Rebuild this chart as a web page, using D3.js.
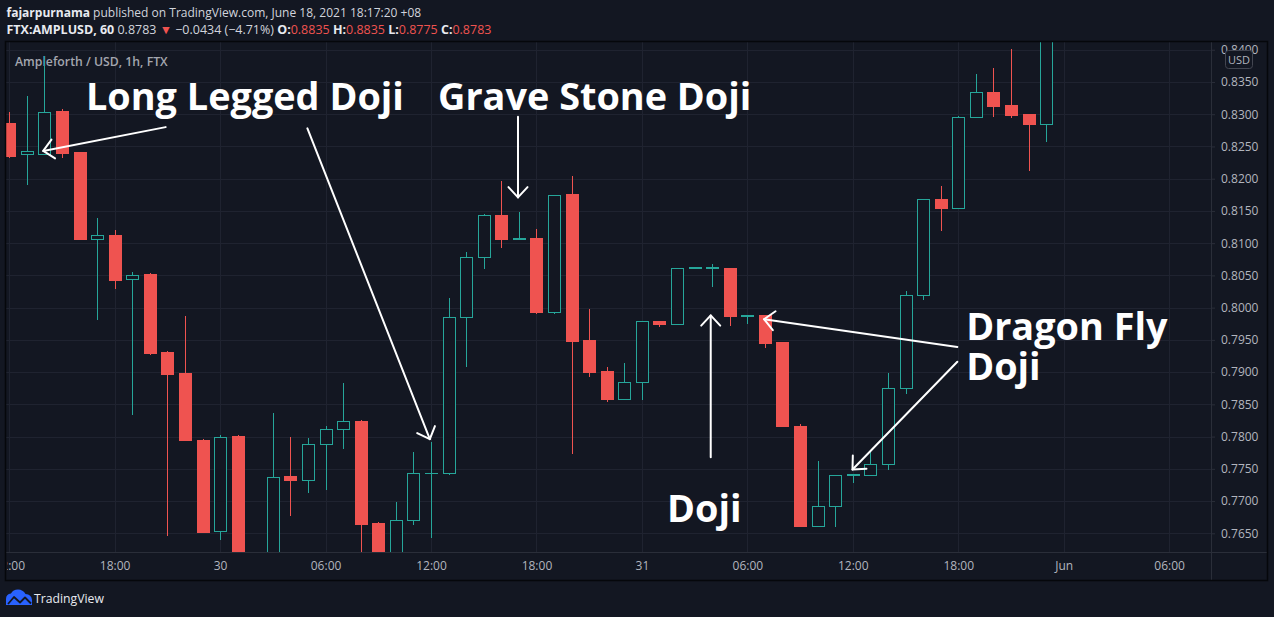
<!DOCTYPE html>
<html><head><meta charset="utf-8">
<script src="https://cdn.jsdelivr.net/npm/d3@7"></script>
<style>
html,body{margin:0;padding:0;background:#131722;overflow:hidden;}
svg{display:block;}
</style></head><body>
<svg id="chart" width="1274" height="617"></svg>
<script>
// ---------- DATA (hourly candles, FTX:AMPLUSD) ----------
const times = [
"2021-05-29 12:00","2021-05-29 13:00","2021-05-29 14:00","2021-05-29 15:00","2021-05-29 16:00","2021-05-29 17:00",
"2021-05-29 18:00","2021-05-29 19:00","2021-05-29 20:00","2021-05-29 21:00","2021-05-29 22:00","2021-05-29 23:00",
"2021-05-30 00:00","2021-05-30 01:00","2021-05-30 02:00","2021-05-30 03:00","2021-05-30 04:00","2021-05-30 05:00",
"2021-05-30 06:00","2021-05-30 07:00","2021-05-30 08:00","2021-05-30 09:00","2021-05-30 10:00","2021-05-30 11:00",
"2021-05-30 12:00","2021-05-30 13:00","2021-05-30 14:00","2021-05-30 15:00","2021-05-30 16:00","2021-05-30 17:00",
"2021-05-30 18:00","2021-05-30 19:00","2021-05-30 20:00","2021-05-30 21:00","2021-05-30 22:00","2021-05-30 23:00",
"2021-05-31 00:00","2021-05-31 01:00","2021-05-31 02:00","2021-05-31 03:00","2021-05-31 04:00","2021-05-31 05:00",
"2021-05-31 06:00","2021-05-31 07:00","2021-05-31 08:00","2021-05-31 09:00","2021-05-31 10:00","2021-05-31 11:00",
"2021-05-31 12:00","2021-05-31 13:00","2021-05-31 14:00","2021-05-31 15:00","2021-05-31 16:00","2021-05-31 17:00",
"2021-05-31 18:00","2021-05-31 19:00","2021-05-31 20:00","2021-05-31 21:00","2021-05-31 22:00","2021-05-31 23:00"];
const opens = [
0.8286,0.8239,0.8239,0.8305,0.8241,0.8107, 0.8113,0.8044,0.8052,0.7931,0.7898,0.7795,
0.7653,0.7801,0.7605,0.7596,0.7739,0.7732, 0.7788,0.7811,0.7824,0.7666,0.7605,0.7670,
0.7743,0.7743,0.7986,0.8078,0.8144,0.8107, 0.8108,0.7994,0.8176,0.7950,0.7902,0.7859,
0.7884,0.7980,0.7975,0.8062,0.8062,0.8062, 0.7987,0.7988,0.7947,0.7817,0.7662,0.7692,
0.7741,0.7741,0.7757,0.7876,0.8020,0.8169, 0.8155,0.8295,0.8334,0.8314,0.8300,0.8285];
const highs = [
0.8303,0.8329,0.8390,0.8308,0.8242,0.8139, 0.8121,0.8055,0.8053,0.7932,0.7987,0.7796,
0.7802,0.7802,0.7615,0.7837,0.7799,0.7798, 0.7817,0.7883,0.7825,0.7667,0.7699,0.7776,
0.7792,0.8015,0.8086,0.8146,0.8197,0.8148, 0.8122,0.8175,0.8204,0.7998,0.7908,0.7914,
0.7980,0.7980,0.8062,0.8063,0.8068,0.8062, 0.7988,0.7988,0.7947,0.7819,0.7762,0.7741,
0.7742,0.7778,0.7898,0.8026,0.8169,0.8189, 0.8297,0.8362,0.8371,0.8401,0.8300,0.8470];
const lows = [
0.8233,0.8192,0.8238,0.8234,0.8106,0.7983, 0.8031,0.7835,0.7928,0.7647,0.7794,0.7652,
0.7641,0.7590,0.7570,0.7590,0.7678,0.7714, 0.7718,0.7783,0.7605,0.7590,0.7598,0.7664,
0.7644,0.7742,0.7910,0.8062,0.8094,0.8107, 0.7991,0.7992,0.7775,0.7894,0.7855,0.7859,
0.7859,0.7971,0.7975,0.8062,0.8034,0.7973, 0.7976,0.7939,0.7817,0.7662,0.7662,0.7662,
0.7729,0.7741,0.7749,0.7868,0.8014,0.8121, 0.8155,0.8295,0.8297,0.8295,0.8214,0.8259];
const closes = [
0.8235,0.8243,0.8304,0.8240,0.8107,0.8113, 0.8043,0.8051,0.7930,0.7897,0.7794,0.7652,
0.7800,0.7605,0.7595,0.7738,0.7732,0.7788, 0.7811,0.7824,0.7665,0.7605,0.7670,0.7743,
0.7744,0.7986,0.8078,0.8144,0.8107,0.8108, 0.7993,0.8175,0.7949,0.7900,0.7859,0.7884,
0.7980,0.7975,0.8062,0.8063,0.8063,0.7987, 0.7988,0.7945,0.7817,0.7662,0.7692,0.7741,
0.7742,0.7757,0.7876,0.8020,0.8169,0.8155, 0.8295,0.8334,0.8313,0.8299,0.8285,0.8450];
const yTickValues = [0.765,0.770,0.775,0.780,0.785,0.790,0.795,0.800,0.805,0.810,0.815,0.820,0.825,0.830,0.835,0.840];
const priceDomain = [0.7621, 0.8412];

// annotation drawings, anchored in time/price like TradingView drawings
const annotationLabels = [
  {text:"Long Legged Doji", t:"2021-05-29 16:22", p:0.8307},
  {text:"Grave Stone Doji", t:"2021-05-30 12:24", p:0.8307},
  {text:"Doji",             t:"2021-05-31 01:26", p:0.7668},
  {text:"Dragon Fly",       t:"2021-05-31 18:27", p:0.7950},
  {text:"Doji",             t:"2021-05-31 18:27", p:0.7888}
];
const annotationArrows = [
  {from:["2021-05-29 20:54",0.8280], to:["2021-05-29 13:56",0.8243]},
  {from:["2021-05-30 04:58",0.8278], to:["2021-05-30 11:56",0.7796]},
  {from:["2021-05-30 16:57",0.8296], to:["2021-05-30 16:57",0.8171]},
  {from:["2021-05-31 03:55",0.7768], to:["2021-05-31 03:55",0.7988]},
  {from:["2021-05-31 17:57",0.7939], to:["2021-05-31 06:57",0.7982]},
  {from:["2021-05-31 17:57",0.7916], to:["2021-05-31 11:59",0.7749]}
];

// ---------- STYLE / LAYOUT ----------
const BG = "#131722", UP = "#26a69a", DOWN = "#ef5350", GRID = "#1f2330", AXIS_LINE = "#2a2e39",
      AXIS_TEXT = "#b2b5be", TEXT = "#d1d4dc";
const FONT = "'Open Sans', 'Noto Sans', sans-serif";
const box  = {left:6, top:42, right:1267, bottom:580};
const pane = {left:6, top:42, right:1211, bottom:552};

const svg = d3.select("#chart");
svg.append("rect").attr("width",1274).attr("height",617).attr("fill",BG);

const parse = d3.utcParse("%Y-%m-%d %H:%M");
const data = times.map((t,i)=>({t:parse(t), o:opens[i], h:highs[i], l:lows[i], c:closes[i]}));
const t0 = data[0].t;
const x = d3.scaleUtc()
  .domain([d3.utcMinute.offset(t0,-11), d3.utcMinute.offset(t0,4103)])
  .range([pane.left, pane.right]);
const y = d3.scaleLinear().domain(priceDomain).range([pane.bottom, pane.top]);

const defs = svg.append("defs");
defs.append("clipPath").attr("id","paneClip").append("rect")
  .attr("x",pane.left).attr("y",pane.top).attr("width",pane.right-pane.left).attr("height",pane.bottom-pane.top);
defs.append("clipPath").attr("id","xAxisClip").append("rect")
  .attr("x",pane.left+1).attr("y",pane.bottom).attr("width",pane.right-pane.left-1).attr("height",box.bottom-pane.bottom);
defs.append("clipPath").attr("id","yAxisClip").append("rect")
  .attr("x",pane.right).attr("y",box.top+1).attr("width",box.right-pane.right).attr("height",pane.bottom-box.top);

// ---------- GRID ----------
const xTicks = x.ticks(d3.utcHour.every(6));
const grid = svg.append("g").attr("clip-path","url(#paneClip)").attr("shape-rendering","crispEdges");
grid.selectAll("line.h").data(yTickValues).join("line").attr("class","h")
  .attr("x1",pane.left).attr("x2",pane.right)
  .attr("y1",d=>Math.round(y(d))+0.5).attr("y2",d=>Math.round(y(d))+0.5)
  .attr("stroke",GRID).attr("stroke-width",1);
grid.selectAll("line.v").data(xTicks).join("line").attr("class","v")
  .attr("y1",pane.top).attr("y2",pane.bottom)
  .attr("x1",d=>Math.round(x(d))+0.5).attr("x2",d=>Math.round(x(d))+0.5)
  .attr("stroke",GRID).attr("stroke-width",1);

// ---------- TITLE IN PANE ----------
svg.append("text").attr("x",15).attr("y",65.5)
  .attr("font-family",FONT).attr("font-weight",600).attr("font-size",13)
  .attr("fill","#a3a6af").attr("id","paneTitle")
  .text("Ampleforth / USD, 1h, FTX");

// ---------- CANDLES ----------
const candles = svg.append("g").attr("clip-path","url(#paneClip)").attr("shape-rendering","crispEdges");
const BW = 13;
data.forEach(d=>{
  const cxi = Math.round(x(d.t));          // pixel column of the wick
  const left = cxi - 6;                     // body spans 13 px
  const up = d.c >= d.o;
  const col = up ? UP : DOWN;
  const yTop = Math.round(y(Math.max(d.o,d.c))), yBot = Math.round(y(Math.min(d.o,d.c)));
  const yH = Math.round(y(d.h)), yL = Math.round(y(d.l));
  const bodyH = Math.max(1, yBot - yTop + 1);
  // wick
  candles.append("rect").attr("x",cxi).attr("width",1).attr("y",yH).attr("height",Math.max(1,yL-yH+1)).attr("fill",col);
  // body
  candles.append("rect").attr("x",left).attr("width",BW).attr("y",yTop).attr("height",bodyH).attr("fill",col);
  if (up && bodyH > 3) {
    candles.append("rect").attr("x",left+1).attr("width",BW-2).attr("y",yTop+1).attr("height",bodyH-2).attr("fill",BG);
  }
});

// ---------- AXES ----------
const yAxis = d3.axisRight(y).tickValues(yTickValues).tickFormat(d3.format(".4f")).tickSize(4).tickPadding(6);
const gy = svg.append("g").attr("clip-path","url(#yAxisClip)")
  .append("g").attr("transform",`translate(${pane.right},0)`).call(yAxis);
gy.select(".domain").remove();
gy.selectAll(".tick line").attr("stroke",AXIS_LINE);
gy.selectAll(".tick text").attr("fill",AXIS_TEXT).attr("font-family",FONT).attr("font-size",12);

const fmtTime = d3.utcFormat("%H:%M");
const fmtMonth = d3.utcFormat("%b");
const xFormat = d => d.getUTCHours()===0 ? (d.getUTCDate()===1 ? fmtMonth(d) : String(d.getUTCDate())) : fmtTime(d);
const xAxis = d3.axisBottom(x).ticks(d3.utcHour.every(6)).tickFormat(xFormat).tickSize(0).tickPadding(9);
const gx = svg.append("g").attr("clip-path","url(#xAxisClip)")
  .append("g").attr("transform",`translate(0,${pane.bottom})`).call(xAxis);
gx.select(".domain").remove();
gx.selectAll(".tick text").attr("fill",AXIS_TEXT).attr("font-family",FONT).attr("font-size",12);

// USD badge
svg.append("rect").attr("x",1225.5).attr("y",50.5).attr("width",27).attr("height",18).attr("rx",3)
  .attr("fill",BG).attr("stroke","#434651");
svg.append("text").attr("x",1239).attr("y",63.5).attr("text-anchor","middle")
  .attr("font-family",FONT).attr("font-size",11).attr("fill",AXIS_TEXT).text("USD");

// separators and outer frame
svg.append("line").attr("x1",box.left).attr("x2",box.right).attr("y1",pane.bottom+0.5).attr("y2",pane.bottom+0.5)
  .attr("stroke",AXIS_LINE);
svg.append("line").attr("x1",pane.right+0.5).attr("x2",pane.right+0.5).attr("y1",box.top).attr("y2",box.bottom)
  .attr("stroke",AXIS_LINE);
svg.append("rect").attr("x",box.left-0.5).attr("y",box.top-0.5).attr("width",box.right-box.left+1).attr("height",box.bottom-box.top+1)
  .attr("fill","none").attr("stroke","#05070b").attr("stroke-width",1.5);

// ---------- ANNOTATIONS ----------
const ann = svg.append("g");
const labelSel = ann.selectAll("text").data(annotationLabels).join("text")
  .attr("x",d=>x(parse(d.t))).attr("y",d=>y(d.p))
  .attr("font-family",FONT).attr("font-weight",700).attr("font-size",100)
  .attr("fill","#ffffff").text(d=>d.text);
// size the annotation font so that the first label spans its width in the picture
const w0 = labelSel.nodes()[0].getComputedTextLength();
labelSel.attr("font-size", 100*318/w0);

annotationArrows.forEach(a=>{
  const x1 = x(parse(a.from[0])), y1 = y(a.from[1]);
  const x2 = x(parse(a.to[0])),   y2 = y(a.to[1]);
  ann.append("line").attr("x1",x1).attr("y1",y1).attr("x2",x2).attr("y2",y2)
    .attr("stroke","#ffffff").attr("stroke-width",2).attr("stroke-linecap","round");
  const ang = Math.atan2(y1-y2, x1-x2), L = 14, spread = Math.PI/4.2;
  const p = (s)=>[x2+L*Math.cos(ang+s), y2+L*Math.sin(ang+s)];
  const a1 = p(spread), a2 = p(-spread);
  ann.append("path").attr("d",`M${a1[0]},${a1[1]}L${x2},${y2}L${a2[0]},${a2[1]}`)
    .attr("fill","none").attr("stroke","#ffffff").attr("stroke-width",2)
    .attr("stroke-linecap","round").attr("stroke-linejoin","round");
});

// ---------- HEADER ----------
function fitText(sel, target){
  const w = sel.node().getComputedTextLength();
  const fs = parseFloat(sel.attr("font-size"));
  sel.attr("font-size", fs*target/w);
}
const h1 = svg.append("text").attr("x",6.5).attr("y",17.3).attr("font-family",FONT).attr("font-size",13).attr("fill",TEXT);
h1.append("tspan").attr("font-weight",700).attr("fill","#e8eaf0").text("fajarpurnama");
h1.append("tspan").text(" published on TradingView.com, June 18, 2021 18:17:20 +08");
fitText(h1, 415);

const h2 = svg.append("text").attr("x",6.5).attr("y",34.3).attr("font-family",FONT).attr("font-size",13).attr("fill",TEXT);
h2.append("tspan").attr("font-weight",700).attr("fill","#e8eaf0").text("FTX:AMPLUSD, 60");
h2.append("tspan").text(" 0.8783 ");
h2.append("tspan").attr("fill",DOWN).text("▼");
h2.append("tspan").text(" −0.0434 (−4.71%) ");
[["O:","0.8835"],["H:","0.8835"],["L:","0.8775"],["C:","0.8783"]].forEach((kv,i)=>{
  h2.append("tspan").attr("font-weight",700).attr("fill","#e8eaf0").text((i?" ":"")+kv[0]);
  h2.append("tspan").attr("fill",DOWN).text(kv[1]);
});
fitText(h2, 485);
fitText(d3.select("#paneTitle"), 153);

// ---------- TRADINGVIEW LOGO ----------
const logo = svg.append("g");
logo.append("path")
  .attr("d","M6,605 L6,599 Q6,594 11,593.5 Q13,589.5 18,589.5 Q23,589.5 25.5,594 Q31.5,594.5 32,600 L32,605 Z")
  .attr("fill","#2962ff");
logo.append("path").attr("d","M8,604 L14,597 L20,602.5 L25,597.5 L31,603.5")
  .attr("fill","none").attr("stroke",BG).attr("stroke-width",1.8).attr("stroke-linejoin","round");
const tv = svg.append("text").attr("x",34).attr("y",603).attr("font-family",FONT).attr("font-size",13)
  .attr("fill","#e8eaf0").text("TradingView");
fitText(tv, 70);
</script>
</body></html>
